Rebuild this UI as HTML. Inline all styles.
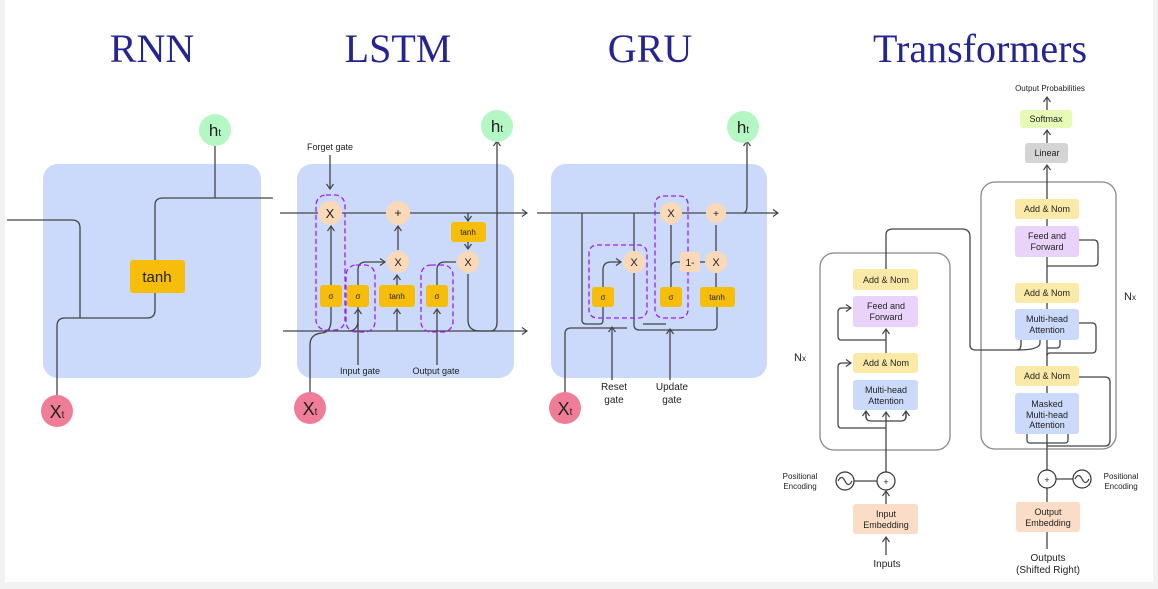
<!DOCTYPE html>
<html><head><meta charset="utf-8"><style>
html,body{margin:0;padding:0;background:#f2f2f2}
svg{display:block}
text{font-family:"Liberation Sans",sans-serif;fill:#222}
.t{font-family:"Liberation Serif",serif;fill:#25258f;font-size:40px}
.l{stroke:#444;stroke-width:1.3;fill:none}
.d{stroke:#a020f0;stroke-width:1.3;fill:none;stroke-dasharray:5 3}
.s{font-size:9px}
</style></head><body>
<svg width="1158" height="589" viewBox="0 0 1158 589" xmlns="http://www.w3.org/2000/svg">
<defs><marker id="a" markerWidth="8" markerHeight="8" refX="6" refY="4" orient="auto" markerUnits="userSpaceOnUse"><path d="M1,0.5 L6,4 L1,7.5" fill="none" stroke="#444" stroke-width="1.2"/></marker></defs>
<rect x="5" y="0" width="1148" height="582" fill="#fff"/>
<text class="t" x="152" y="62" text-anchor="middle">RNN</text>
<text class="t" x="398" y="62" text-anchor="middle">LSTM</text>
<text class="t" x="650" y="62" text-anchor="middle">GRU</text>
<text class="t" x="980" y="62" text-anchor="middle">Transformers</text>

<!-- RNN -->
<rect x="43" y="164" width="218" height="214" rx="15" fill="#cbd9fb"/>
<path class="l" d="M7,220 H72 Q80,220 80,228 V318"/>
<path class="l" d="M57,395 V326 Q57,318 65,318 H147 Q155,318 155,310 V205 Q155,198 163,198 H273"/>
<line class="l" x1="215" y1="146" x2="215" y2="198"/>
<rect x="130" y="260" width="55" height="33" rx="3" fill="#f6bd0a"/>
<text x="157" y="282" text-anchor="middle" font-size="15">tanh</text>
<circle cx="215" cy="130" r="16" fill="#b5f7c4"/><text x="215" y="136" text-anchor="middle" font-size="17">h<tspan font-size="10">t</tspan></text>
<circle cx="57" cy="411" r="16" fill="#f07d98"/><text x="57" y="418" text-anchor="middle" font-size="18">X<tspan font-size="10">t</tspan></text>

<!-- LSTM -->
<rect x="297" y="164" width="217" height="214" rx="15" fill="#cbd9fb"/>
<line class="l" x1="280" y1="213" x2="527" y2="213" marker-end="url(#a)"/>
<line class="l" x1="283" y1="331" x2="527" y2="331" marker-end="url(#a)"/>
<text class="s" x="330" y="150" text-anchor="middle">Forget gate</text>
<line class="l" x1="330" y1="155" x2="330" y2="189" marker-end="url(#a)"/>
<path class="l" d="M310,395 V345 Q310,334 322,333 Q331,332 331,320 V307" />
<path class="l" d="M331,285 V226" marker-end="url(#a)"/>
<path class="l" d="M358,307 V320 Q358,331 348,331"/>
<path class="l" d="M358,365 V309" marker-end="url(#a)"/>
<path class="l" d="M358,285 V270 Q358,262 366,262 H385" marker-end="url(#a)"/>
<path class="l" d="M397,331 Q397,320 397,309" marker-end="url(#a)"/>
<path class="l" d="M397,285 V275" marker-end="url(#a)"/>
<path class="l" d="M398,250 V226" marker-end="url(#a)"/>
<path class="l" d="M437,365 V309" marker-end="url(#a)"/>
<path class="l" d="M437,285 V270 Q437,262 445,262 H456"/>
<path class="l" d="M468,213 V221" marker-end="url(#a)"/>
<path class="l" d="M468,242 V249" marker-end="url(#a)"/>
<path class="l" d="M468,274 V320 Q468,331 480,331 H490 Q497,331 497,322 V141" marker-end="url(#a)"/>
<rect x="316" y="195" width="29" height="135" rx="10" class="d"/>
<rect x="346" y="265" width="29" height="67" rx="10" class="d"/>
<rect x="421" y="265" width="32" height="67" rx="10" class="d"/>
<circle cx="330" cy="213" r="12" fill="#fad9b8"/><text x="330" y="218" text-anchor="middle" font-size="13">X</text>
<circle cx="398" cy="213" r="12" fill="#fad9b8"/><text x="398" y="217" text-anchor="middle" font-size="12">+</text>
<circle cx="398" cy="262" r="11" fill="#fad9b8"/><text x="398" y="266" text-anchor="middle" font-size="11">X</text>
<circle cx="468" cy="262" r="11" fill="#fad9b8"/><text x="468" y="266" text-anchor="middle" font-size="11">X</text>
<rect x="320" y="285" width="22" height="22" rx="3" fill="#f6bd0a"/><text x="331" y="299" text-anchor="middle" font-size="8">σ</text>
<rect x="347" y="285" width="22" height="22" rx="3" fill="#f6bd0a"/><text x="358" y="299" text-anchor="middle" font-size="8">σ</text>
<rect x="379" y="285" width="36" height="22" rx="3" fill="#f6bd0a"/><text x="397" y="299" text-anchor="middle" font-size="8">tanh</text>
<rect x="426" y="285" width="22" height="22" rx="3" fill="#f6bd0a"/><text x="437" y="299" text-anchor="middle" font-size="8">σ</text>
<rect x="451" y="222" width="35" height="20" rx="3" fill="#f6bd0a"/><text x="468" y="235" text-anchor="middle" font-size="8">tanh</text>
<text class="s" x="360" y="374" text-anchor="middle">Input gate</text>
<text class="s" x="436" y="374" text-anchor="middle">Output gate</text>
<circle cx="497" cy="126" r="16" fill="#b5f7c4"/><text x="497" y="132" text-anchor="middle" font-size="17">h<tspan font-size="10">t</tspan></text>
<circle cx="310" cy="408" r="16" fill="#f07d98"/><text x="310" y="415" text-anchor="middle" font-size="18">X<tspan font-size="10">t</tspan></text>

<!-- GRU -->
<rect x="551" y="164" width="216" height="214" rx="15" fill="#cbd9fb"/>
<line class="l" x1="537" y1="213" x2="778" y2="213" marker-end="url(#a)"/>
<path class="l" d="M743,213 Q747,213 747,205 V141" marker-end="url(#a)"/>
<path class="l" d="M582,213 V320 Q582,324 586,324 H600 Q603,324 603,320 V307"/>
<path class="l" d="M603,287 V270 Q603,262 611,262 H621" marker-end="url(#a)"/>
<path class="l" d="M634,213 V325 Q634,330 640,330 H713 Q717,330 717,326 V307"/>
<path class="l" d="M565,392 V334 Q565,328 571,328 H627"/>
<line class="l" x1="643" y1="324" x2="666" y2="324"/>
<line class="l" x1="612" y1="380" x2="612" y2="327" marker-end="url(#a)"/>
<line class="l" x1="670" y1="380" x2="670" y2="329" marker-end="url(#a)"/>
<path class="l" d="M671,225 V287"/>
<path class="l" d="M671,267 Q671,262 677,262 H680"/>
<line class="l" x1="700" y1="262" x2="705" y2="262"/>
<line class="l" x1="716" y1="225" x2="716" y2="251"/>
<line class="l" x1="716" y1="273" x2="716" y2="287"/>
<rect x="589" y="245" width="58" height="73" rx="8" class="d"/>
<rect x="655" y="196" width="33" height="122" rx="8" class="d"/>
<circle cx="671" cy="213" r="11" fill="#fad9b8"/><text x="671" y="217" text-anchor="middle" font-size="11">X</text>
<circle cx="716" cy="213" r="10" fill="#fad9b8"/><text x="716" y="217" text-anchor="middle" font-size="10">+</text>
<circle cx="634" cy="262" r="11" fill="#fad9b8"/><text x="634" y="266" text-anchor="middle" font-size="11">X</text>
<circle cx="716" cy="262" r="11" fill="#fad9b8"/><text x="716" y="266" text-anchor="middle" font-size="11">X</text>
<rect x="680" y="252" width="20" height="20" rx="3" fill="#fad9b8"/><text x="690" y="266" text-anchor="middle" font-size="10">1-</text>
<rect x="592" y="287" width="22" height="20" rx="3" fill="#f6bd0a"/><text x="603" y="300" text-anchor="middle" font-size="8">σ</text>
<rect x="660" y="287" width="22" height="20" rx="3" fill="#f6bd0a"/><text x="671" y="300" text-anchor="middle" font-size="8">σ</text>
<rect x="700" y="287" width="35" height="20" rx="3" fill="#f6bd0a"/><text x="717" y="300" text-anchor="middle" font-size="8">tanh</text>
<text x="614" y="390" text-anchor="middle" font-size="10">Reset</text><text x="614" y="403" text-anchor="middle" font-size="10">gate</text>
<text x="672" y="390" text-anchor="middle" font-size="10">Update</text><text x="672" y="403" text-anchor="middle" font-size="10">gate</text>
<circle cx="743" cy="127" r="16" fill="#b5f7c4"/><text x="743" y="133" text-anchor="middle" font-size="17">h<tspan font-size="10">t</tspan></text>
<circle cx="565" cy="408" r="16" fill="#f07d98"/><text x="565" y="415" text-anchor="middle" font-size="18">X<tspan font-size="10">t</tspan></text>

<!-- Transformers -->
<rect x="820" y="253" width="130" height="197" rx="14" fill="none" stroke="#888" stroke-width="1.3"/>
<rect x="981" y="182" width="135" height="267" rx="14" fill="none" stroke="#888" stroke-width="1.3"/>
<text x="800" y="361" text-anchor="middle" font-size="11">N<tspan font-size="8">x</tspan></text>
<text x="1130" y="300" text-anchor="middle" font-size="11">N<tspan font-size="8">x</tspan></text>
<!-- encoder lines -->
<path class="l" d="M886,472 V412" marker-end="url(#a)"/>
<path class="l" d="M866,412 V416 Q866,421 871,421 H901 Q906,421 906,416 V412"/>
<path class="l" d="M866,418 V411" marker-end="url(#a)"/>
<path class="l" d="M906,418 V411" marker-end="url(#a)"/>
<path class="l" d="M886,428 H841 Q838,428 838,424 V367 Q838,363 842,363 H851" marker-end="url(#a)"/>
<path class="l" d="M886,373 V329" marker-end="url(#a)"/>
<path class="l" d="M886,340 H841 Q838,340 838,336 V312 Q838,308 842,308 H851" marker-end="url(#a)"/>
<path class="l" d="M886,269 V235 Q886,229 893,229 H962 Q970,229 970,237 V345 Q970,350 976,350 H1017 Q1021,350 1021,344 V340"/>
<path class="l" d="M1017,350 Q1040,350 1040,343 V340"/>
<path class="l" d="M886,504 V491" marker-end="url(#a)"/>
<path class="l" d="M886,555 V537" marker-end="url(#a)"/>
<line class="l" x1="854" y1="481" x2="877" y2="481"/>
<!-- decoder lines -->
<path class="l" d="M1047,549 V488"/>
<path class="l" d="M1047,470 V182"/>
<path class="l" d="M1047,182 V165" marker-end="url(#a)"/>
<path class="l" d="M1047,143 V130" marker-end="url(#a)"/>
<path class="l" d="M1047,110 V97" marker-end="url(#a)"/>
<line class="l" x1="1056" y1="479" x2="1073" y2="479"/>
<path class="l" d="M1047,446 H1105 Q1110,446 1110,440 V382 Q1110,377 1105,377 H1079"/>
<path class="l" d="M1027,434 V440 Q1027,443 1030,443 H1065 Q1068,443 1068,440 V434"/>
<path class="l" d="M1047,356 Q1047,353 1050,353 H1092 Q1096,353 1096,349 V327 Q1096,323 1092,323 H1079"/>
<path class="l" d="M1060,340 V344 Q1060,348 1057,348 H1047"/>
<path class="l" d="M1047,266 H1094 Q1098,266 1098,262 V245 Q1098,240 1094,240 H1079"/>
<!-- boxes -->
<g font-size="9" text-anchor="middle">
<rect x="853" y="269" width="65" height="21" rx="3" fill="#fbe9a8"/><text x="886" y="283">Add &amp; Nom</text>
<rect x="853" y="296" width="65" height="31" rx="3" fill="#ead3fb"/><text x="886" y="309">Feed and</text><text x="886" y="320">Forward</text>
<rect x="853" y="353" width="65" height="20" rx="3" fill="#fbe9a8"/><text x="886" y="366">Add &amp; Nom</text>
<rect x="853" y="380" width="65" height="30" rx="3" fill="#cbd9fb"/><text x="886" y="393">Multi-head</text><text x="886" y="404">Attention</text>
<rect x="1015" y="199" width="64" height="20" rx="3" fill="#fbe9a8"/><text x="1047" y="212">Add &amp; Nom</text>
<rect x="1015" y="226" width="64" height="31" rx="3" fill="#ead3fb"/><text x="1047" y="239">Feed and</text><text x="1047" y="250">Forward</text>
<rect x="1015" y="283" width="64" height="20" rx="3" fill="#fbe9a8"/><text x="1047" y="296">Add &amp; Nom</text>
<rect x="1015" y="309" width="64" height="31" rx="3" fill="#cbd9fb"/><text x="1047" y="322">Multi-head</text><text x="1047" y="333">Attention</text>
<rect x="1015" y="366" width="64" height="20" rx="3" fill="#fbe9a8"/><text x="1047" y="379">Add &amp; Nom</text>
<rect x="1015" y="393" width="64" height="41" rx="3" fill="#cbd9fb"/><text x="1047" y="407">Masked</text><text x="1047" y="418">Multi-head</text><text x="1047" y="428">Attention</text>
<rect x="1025" y="143" width="43" height="20" rx="3" fill="#d4d4d4"/><text x="1047" y="156">Linear</text>
<rect x="1020" y="110" width="52" height="18" rx="3" fill="#e6fbb5"/><text x="1046" y="122">Softmax</text>
<text x="1050" y="91" font-size="8">Output Probabilities</text>
<rect x="853" y="504" width="65" height="30" rx="3" fill="#fbdcc6"/><text x="886" y="517">Input</text><text x="886" y="528">Embedding</text>
<rect x="1016" y="502" width="64" height="30" rx="3" fill="#fbdcc6"/><text x="1048" y="515">Output</text><text x="1048" y="526">Embedding</text>
<text x="800" y="479" font-size="8">Positional</text><text x="800" y="489" font-size="8">Encoding</text>
<text x="1121" y="479" font-size="8">Positional</text><text x="1121" y="489" font-size="8">Encoding</text>
<text x="887" y="567" font-size="10">Inputs</text>
<text x="1048" y="561" font-size="10">Outputs</text><text x="1048" y="573" font-size="10">(Shifted Right)</text>
</g>
<circle cx="886" cy="481" r="9" fill="#fff" stroke="#333" stroke-width="1.2"/><text x="886" y="485" text-anchor="middle" font-size="9">+</text>
<circle cx="1047" cy="479" r="9" fill="#fff" stroke="#333" stroke-width="1.2"/><text x="1047" y="483" text-anchor="middle" font-size="9">+</text>
<circle cx="845" cy="481" r="9" fill="#fff" stroke="#333" stroke-width="1.2"/><path d="M838,481 Q841.5,474 845,481 T852,481" class="l"/>
<circle cx="1082" cy="479" r="9" fill="#fff" stroke="#333" stroke-width="1.2"/><path d="M1075,479 Q1078.5,472 1082,479 T1089,479" class="l"/>
</svg>
</body></html>
